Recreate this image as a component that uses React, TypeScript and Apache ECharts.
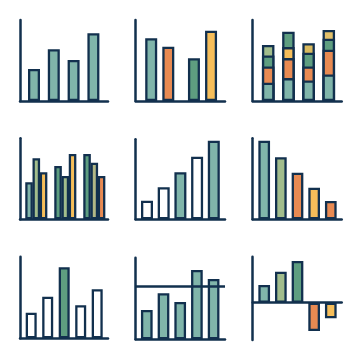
import React, { useEffect, useRef } from "react";
import * as echarts from "echarts";

// ---- data (bar heights, in axis units) ----
const icon1Values = [32, 51.7, 41, 67.7];
const icon2Positions = [0, 1, 2.5, 3.5];
const icon2Values = [62.7, 54.3, 42.7, 70.3];
const icon3Layer1 = [18.2, 22.9, 20.5, 26.5];
const icon3Layer2 = [16.3, 20, 14, 24.7];
const icon3Layer3 = [11, 11, 13.7, 11];
const icon3Layer4 = [10.5, 15.4, 9.5, 8.8];
const icon4SeriesA = [37, 53.3, 65.3];
const icon4SeriesB = [61, 43.3, 56.6];
const icon4SeriesC = [47, 65.3, 43.3];
const icon5Values = [18.6, 32, 47, 62.6, 78.6];
const icon6Values = [78.6, 62, 46.6, 31.6, 18.3];
const icon7Values = [25.6, 41.6, 71, 33, 49];
const icon8Values = [29.3, 46, 37.3, 69.3, 60.3];
const icon8Threshold = 52.6;
const icon9Values = [17.7, 31, 41.7, -28.3, -15.6];

// ---- styles ----
const NAVY = "#12304e";
const TEAL = "#80b5aa";
const ORANGE = "#e88a52";
const YELLOW = "#f6be5a";
const GREEN = "#5e9e80";
const LIGHTGREEN = "#a2bd8c";
const OLIVE = "#b2b886";
const MUSTARD = "#d9ba5f";
const WHITE = "#ffffff";
const AXIS_W = 2.5;
const BORDER_W = 2.3;

const icon1Colors = [TEAL, TEAL, TEAL, TEAL];
const icon2Colors = [TEAL, ORANGE, GREEN, YELLOW];
const icon3Colors1 = [TEAL, TEAL, TEAL, TEAL];
const icon3Colors2 = [ORANGE, ORANGE, ORANGE, ORANGE];
const icon3Colors3 = [GREEN, YELLOW, GREEN, GREEN];
const icon3Colors4 = [LIGHTGREEN, GREEN, MUSTARD, "#e2c06a"];
const icon4ColorsA = [TEAL, GREEN, GREEN];
const icon4ColorsB = [LIGHTGREEN, LIGHTGREEN, OLIVE];
const icon4ColorsC = [YELLOW, YELLOW, ORANGE];
const icon5Colors = [WHITE, WHITE, TEAL, WHITE, TEAL];
const icon6Colors = [TEAL, LIGHTGREEN, ORANGE, YELLOW, ORANGE];
const icon7Colors = [WHITE, WHITE, GREEN, WHITE, WHITE];
const icon8Colors = [TEAL, TEAL, TEAL, TEAL, TEAL];
const icon9Colors = [TEAL, LIGHTGREEN, GREEN, ORANGE, YELLOW];

// ---- layout of each small panel (pixels) ----
type Layout = {
  left: number; right: number; top: number; bottom: number;
  first: number; step: number; barW: number; yMin?: number; yMax?: number;
};
const layouts: Layout[] = [
  { left: 20, right: 108, top: 20, bottom: 101, first: 34, step: 19.8, barW: 12 },
  { left: 135.7, right: 225, top: 20, bottom: 101, first: 151.2, step: 17.1, barW: 12 },
  { left: 252.7, right: 341.7, top: 20, bottom: 101, first: 268.2, step: 20.2, barW: 12.5 },
  { left: 20, right: 108, top: 138.3, bottom: 219.3, first: 36.3, step: 29, barW: 7.6 },
  { left: 135.7, right: 225, top: 139.3, bottom: 219.3, first: 147, step: 16.7, barW: 12 },
  { left: 252.7, right: 341.7, top: 138.3, bottom: 219.3, first: 264.2, step: 16.65, barW: 11.7 },
  { left: 20, right: 108, top: 256.7, bottom: 338.3, first: 31.2, step: 16.5, barW: 11 },
  { left: 135.7, right: 225, top: 257.7, bottom: 339.3, first: 146.8, step: 16.7, barW: 11.7 },
  { left: 252.7, right: 341.7, top: 256.7, bottom: 340, first: 264.2, step: 16.65, barW: 11.7, yMin: -37.3, yMax: 46 },
];

const idx = (n: number) => Array.from({ length: n }, (_, i) => i);

function items(xs: number[], vals: number[], colors: string[]) {
  return vals.map((v, i) => ({
    value: [xs[i], v],
    itemStyle: { color: colors[i] },
  }));
}

function buildOption() {
  const grid: any[] = [];
  const xAxis: any[] = [];
  const yAxis: any[] = [];
  layouts.forEach((l, i) => {
    grid.push({ left: l.left, top: l.top, width: l.right - l.left, height: l.bottom - l.top, containLabel: false });
    const lineStyle = { color: NAVY, width: AXIS_W, cap: "round" };
    xAxis.push({
      type: "value", gridIndex: i,
      min: (l.left - l.first) / l.step, max: (l.right - l.first) / l.step,
      axisLine: { show: true, onZero: true, lineStyle },
      axisTick: { show: false }, axisLabel: { show: false }, splitLine: { show: false },
    });
    yAxis.push({
      type: "value", gridIndex: i,
      min: l.yMin ?? 0, max: l.yMax ?? l.bottom - l.top,
      axisLine: { show: true, onZero: false, lineStyle },
      axisTick: { show: false }, axisLabel: { show: false }, splitLine: { show: false },
    });
  });

  const bar = (i: number, data: any[], extra: any = {}) => ({
    type: "bar", xAxisIndex: i, yAxisIndex: i, barWidth: layouts[i].barW, clip: false,
    barGap: "-100%",
    itemStyle: { borderColor: NAVY, borderWidth: BORDER_W },
    emphasis: { disabled: true },
    data, ...extra,
  });

  // stacked icon: draw cumulative totals from the top layer down, each on top of the previous
  const layers = [icon3Layer1, icon3Layer2, icon3Layer3, icon3Layer4];
  const layerColors = [icon3Colors1, icon3Colors2, icon3Colors3, icon3Colors4];
  const cumulative = layers.map((_, k) =>
    icon3Layer1.map((_, j) => layers.slice(0, k + 1).reduce((s, arr) => s + arr[j], 0))
  );
  const stackSeries = [3, 2, 1, 0].map((k) =>
    bar(2, items(idx(4), cumulative[k], layerColors[k]))
  );

  const g4x = (offset: number) => [0, 1, 2].map((g) => g + offset);

  const series: any[] = [
    bar(0, items(idx(4), icon1Values, icon1Colors)),
    bar(1, items(icon2Positions, icon2Values, icon2Colors)),
    ...stackSeries,
    bar(3, [
      ...items(g4x(-0.25), icon4SeriesA, icon4ColorsA),
      ...items(g4x(0), icon4SeriesB, icon4ColorsB),
      ...items(g4x(0.25), icon4SeriesC, icon4ColorsC),
    ]),
    bar(4, items(idx(5), icon5Values, icon5Colors)),
    bar(5, items(idx(5), icon6Values, icon6Colors)),
    bar(6, items(idx(5), icon7Values, icon7Colors)),
    bar(7, items(idx(5), icon8Values, icon8Colors), {
      markLine: {
        silent: true, symbol: ["none", "none"], label: { show: false },
        lineStyle: { color: NAVY, width: AXIS_W, type: "solid" },
        data: [{ yAxis: icon8Threshold }],
      },
    }),
    bar(8, items(idx(5), icon9Values, icon9Colors)),
  ];

  return { animation: false, backgroundColor: "#ffffff", grid, xAxis, yAxis, series };
}

export default function App() {
  const ref = useRef<HTMLDivElement>(null);
  useEffect(() => {
    if (!ref.current) return;
    const chart = echarts.init(ref.current, undefined, { renderer: "svg" });
    chart.setOption(buildOption() as any);
    return () => chart.dispose();
  }, []);
  return (
    <div
      ref={ref}
      style={{ position: "fixed", left: 0, top: 0, width: 360, height: 360, background: "#fff" }}
    />
  );
}
